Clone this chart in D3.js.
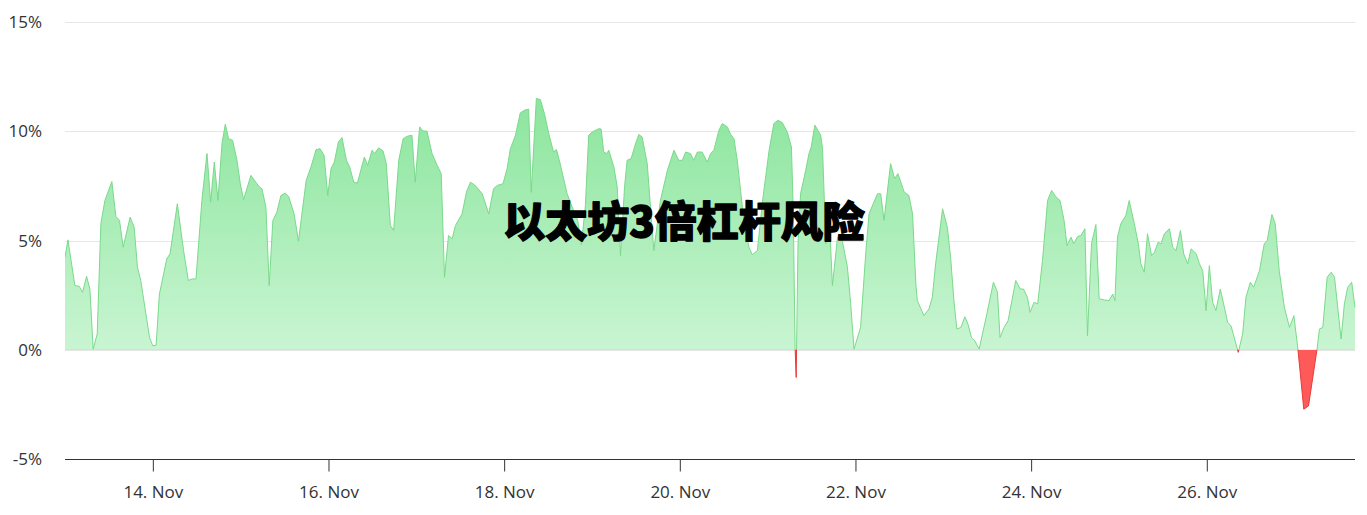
<!DOCTYPE html>
<html lang="zh">
<head>
    <meta charset="UTF-8">
    <title>以太坊3倍杠杆风险</title>
    <script src="https://d3js.org/d3.v7.min.js"></script>
    <style>
        body {
            margin: 0;
            background: #fff;
        }
        svg text {
            font-family: "Open Sans", "Noto Sans", sans-serif;
            fill: #333;
        }
        .grid line {
            stroke: #e6e6e6;
            stroke-width: 1;
        }
        .title {
            font-family: "Noto Sans CJK SC", "Noto Sans CJK JP", sans-serif !important;
            font-weight: 900;
            fill: #000 !important;
            stroke: #000;
            stroke-width: 1.4px;
            stroke-linejoin: round;
        }
    </style>
</head>
<body>
    <svg id="chart" width="1367" height="515"></svg>

    <script>
        // hours since 13 Nov 00:00
        const hours = [
            0, 0.8, 2.7, 3.9, 4.8, 5.9, 6.8, 7.7, 8.8, 9.8, 10.9, 12.8, 13.9, 14.9, 15.9, 17.8, 18.9, 19.8, 20.7, 23.1,
            24.0, 24.9, 25.8, 27.8, 28.7, 30.7, 32.4, 33.7, 34.7, 35.8, 37.4, 38.8, 39.8, 40.8, 41.8, 42.9, 43.8, 44.7, 45.8, 47.0,
            47.9, 48.8, 50.8, 53.1, 53.8, 54.9, 55.8, 56.8, 57.9, 59.0, 60.2, 61.1, 62.6, 63.8, 65.9, 67.2, 68.6, 69.7, 70.8, 71.8,
            72.7, 73.6, 74.7, 75.7, 76.9, 77.8, 78.9, 79.9, 81.8, 82.7, 83.9, 84.6, 85.7, 86.9, 87.8, 88.9, 89.8, 91.2, 92.4, 93.5,
            94.8, 95.7, 96.9, 97.8, 98.9, 100.3, 101.7, 102.8, 103.7, 104.8, 105.8, 106.7, 108.5, 109.7, 110.8, 112.1, 114.0, 115.8, 117.1, 118.1,
            119.7, 120.8, 121.7, 123.1, 124.4, 125.5, 126.7, 127.4, 128.8, 129.9, 131.0, 132.2, 133.5, 134.3, 135.2, 137.2, 138.6, 140.1, 141.1, 142.2,
            143.1, 144.1, 145.9, 146.5, 147.2, 148.0, 148.6, 150.0, 150.9, 151.8, 152.9, 153.6, 154.7, 155.9, 156.8, 157.7, 159.1, 160.0, 160.9, 162.7,
            164.6, 166.4, 167.7, 168.7, 169.6, 170.9, 171.8, 172.8, 174.1, 175.5, 176.4, 177.3, 178.7, 179.6, 181.0, 181.9, 182.8, 183.7, 184.6, 185.5,
            186.9, 187.8, 189.2, 190.6, 192.4, 193.7, 194.8, 196.0, 197.4, 198.5, 199.0, 199.5, 199.8, 200.3, 201.0, 202.4, 203.3, 203.9, 204.9, 206.5,
            207.0, 207.9, 208.8, 209.7, 211.1, 212.4, 213.8, 214.7, 215.6, 217.4, 218.8, 219.7, 222.0, 222.9, 223.8, 225.6, 226.7, 227.6, 228.4, 229.3,
            230.6, 231.6, 232.5, 232.9, 234.7, 236.1, 237.0, 237.9, 239.8, 241.1, 242.0, 242.9, 243.7, 244.8, 245.9, 246.8, 247.7, 248.6, 249.8, 251.9,
            253.7, 254.8, 255.5, 256.6, 257.7, 259.8, 261.0, 261.9, 263.0, 263.7, 264.8, 265.8, 267.1, 268.5, 269.6, 270.8, 271.9, 273.0, 273.8, 274.9,
            275.6, 276.7, 277.6, 278.7, 279.4, 280.5, 281.7, 282.6, 284.0, 285.3, 286.3, 286.9, 287.6, 288.5, 289.9, 290.8, 292.2, 293.3, 294.0, 294.9,
            295.8, 296.9, 297.7, 298.7, 299.5, 300.4, 301.8, 302.7, 303.6, 304.8, 305.7, 306.8, 307.7, 309.1, 310.0, 310.9, 311.8, 312.7, 313.6, 314.5,
            315.7, 316.6, 317.7, 318.6, 319.5, 320.6, 321.8, 322.7, 323.9, 324.8, 326.4, 327.7, 328.5, 329.8, 330.7, 331.8, 333.2, 334.6, 335.8, 336.9,
            338.5, 339.8, 342.1, 342.8, 343.7, 344.9, 346.0, 346.9, 348.7, 349.6, 350.5, 351.6, 352.5
        ];

        // risk value in %
        const values = [
            4.23, 5.03, 2.94, 2.9, 2.63, 3.36, 2.78, 0.03, 0.72, 5.77, 6.83, 7.7, 6.1, 5.92, 4.69, 6.07, 5.61, 3.78, 3.17, 0.56,
            0.18, 0.21, 2.55, 4.16, 4.39, 6.68, 4.54, 3.17, 3.24, 3.24, 6.83, 8.98, 6.76, 8.59, 6.83, 9.44, 10.32, 9.66, 9.59, 8.67,
            7.6, 6.87, 7.98, 7.45, 7.37, 6.53, 2.94, 5.92, 6.3, 7.06, 7.17, 7.02, 6.22, 4.97, 7.75, 8.36, 9.16, 9.2, 8.9, 7.06,
            8.29, 8.59, 9.51, 9.71, 8.67, 8.36, 7.67, 7.63, 8.82, 8.44, 9.13, 8.98, 9.24, 9.1, 8.52, 5.69, 5.46, 8.67, 9.66, 9.77,
            9.82, 7.67, 10.2, 10.01, 10.01, 8.98, 8.44, 8.06, 3.32, 5.23, 5.08, 5.69, 6.22, 7.22, 7.67, 7.52, 7.14, 6.22, 7.37, 7.52,
            7.6, 8.29, 9.2, 9.82, 10.84, 10.96, 11.01, 7.2, 11.5, 11.45, 10.81, 9.89, 9.05, 9.16, 8.59, 7.14, 6.53, 5.92, 4.8, 6.6,
            9.82, 9.97, 10.12, 10.1, 9.05, 8.98, 9.13, 8.36, 7.45, 4.31, 7.45, 8.67, 8.75, 9.43, 9.85, 9.74, 8.52, 6.5, 4.54, 6.83,
            8.21, 9.13, 8.67, 8.67, 9.05, 8.98, 8.67, 9.05, 9.05, 8.59, 8.98, 9.13, 10.05, 10.35, 10.2, 9.85, 9.66, 8.67, 7.29, 5.92,
            4.69, 4.35, 4.54, 6.8, 9.13, 10.35, 10.5, 10.4, 9.95, 9.28, 6.38, 0.1, -1.27, 4.85, 7.14, 8.21, 8.98, 9.28, 10.28, 9.82,
            9.2, 4.85, 6.22, 2.94, 5.15, 5.0, 3.78, 2.1, 0.03, 1.02, 4.39, 6.22, 7.14, 7.14, 5.92, 8.52, 7.83, 8.06, 7.67, 7.22,
            7.06, 6.22, 3.01, 2.25, 1.56, 1.87, 2.4, 3.93, 6.45, 5.61, 4.23, 2.25, 0.95, 1.02, 1.51, 1.15, 0.56, 0.41, 0.03, 1.64,
            3.09, 2.63, 0.56, 1.02, 1.33, 3.17, 2.78, 2.78, 2.4, 1.71, 2.17, 2.1, 4.08, 6.83, 7.29, 6.99, 6.83, 5.92, 4.77, 5.15,
            4.85, 5.18, 5.23, 5.54, 0.64, 4.85, 5.73, 2.33, 2.28, 2.25, 2.55, 2.25, 5.15, 5.77, 6.15, 6.83, 5.77, 4.85, 3.93, 3.55,
            5.31, 4.31, 4.46, 4.92, 4.85, 5.31, 5.54, 4.69, 4.54, 5.46, 4.39, 3.93, 4.62, 4.39, 3.93, 3.62, 1.79, 3.85, 2.17, 1.79,
            2.78, 2.1, 1.25, 1.1, 0.56, -0.12, 0.72, 2.4, 3.09, 2.86, 3.62, 4.85, 5.0, 6.19, 5.77, 3.62, 1.94, 1.02, 1.56, 0.03,
            -2.72, -2.57, 0.0, 0.95, 1.02, 3.32, 3.55, 3.32, 0.49, 2.1, 2.86, 3.09, 1.94
        ];

        const yTicks = [-5, 0, 5, 10, 15];
        const xTickDays = [14, 16, 18, 20, 22, 24, 26];
        const title = "以太坊3倍杠杆风险";

        const start = new Date(2021, 10, 13);
        const data = hours.map((h, i) => ({
            date: new Date(start.getTime() + h * 3600 * 1000),
            value: values[i]
        }));

        const margin = { top: 22, right: 12, bottom: 56, left: 65 };
        const width = 1367, height = 515;

        const svg = d3.select("#chart");

        const x = d3.scaleTime()
            .domain(d3.extent(data, d => d.date))
            .range([margin.left, width - margin.right]);

        const y = d3.scaleLinear()
            .domain([-5, 15])
            .range([height - margin.bottom, margin.top]);

        const defs = svg.append("defs");

        // green gradient above zero
        const grad = defs.append("linearGradient")
            .attr("id", "greenFill")
            .attr("gradientUnits", "userSpaceOnUse")
            .attr("x1", 0).attr("x2", 0)
            .attr("y1", y(d3.max(values))).attr("y2", y(0));
        grad.append("stop").attr("offset", "0%").attr("stop-color", "#8be59d");
        grad.append("stop").attr("offset", "100%").attr("stop-color", "#c9f5d2");

        // clip regions: above and below zero
        defs.append("clipPath").attr("id", "clipPos")
            .append("rect")
            .attr("x", margin.left).attr("y", 0)
            .attr("width", width).attr("height", y(0));
        defs.append("clipPath").attr("id", "clipNeg")
            .append("rect")
            .attr("x", margin.left).attr("y", y(0))
            .attr("width", width).attr("height", height - y(0));

        // gridlines
        svg.append("g")
            .attr("class", "grid")
            .selectAll("line")
            .data(yTicks.filter(t => t > -5))
            .join("line")
            .attr("x1", margin.left)
            .attr("x2", width - margin.right)
            .attr("y1", d => Math.round(y(d)) + 0.5)
            .attr("y2", d => Math.round(y(d)) + 0.5);

        const area = d3.area()
            .x(d => x(d.date))
            .y0(y(0))
            .y1(d => y(d.value));

        const line = d3.line()
            .x(d => x(d.date))
            .y(d => y(d.value));

        // positive part
        svg.append("path")
            .datum(data)
            .attr("clip-path", "url(#clipPos)")
            .attr("fill", "url(#greenFill)")
            .attr("d", area);
        svg.append("path")
            .datum(data)
            .attr("clip-path", "url(#clipPos)")
            .attr("fill", "none")
            .attr("stroke", "#7ad98b")
            .attr("stroke-width", 1)
            .attr("d", line);

        // negative part
        svg.append("path")
            .datum(data)
            .attr("clip-path", "url(#clipNeg)")
            .attr("fill", "#ff5a5a")
            .attr("d", area);
        svg.append("path")
            .datum(data)
            .attr("clip-path", "url(#clipNeg)")
            .attr("fill", "none")
            .attr("stroke", "#e83a3a")
            .attr("stroke-width", 1)
            .attr("d", line);

        // y axis labels
        svg.append("g")
            .selectAll("text")
            .data(yTicks)
            .join("text")
            .attr("x", 42)
            .attr("y", d => y(d) + 6)
            .attr("text-anchor", "end")
            .style("font-size", "17px")
            .text(d => d + "%");

        // x axis
        const xTicks = xTickDays.map(d => new Date(2021, 10, d));
        const xAxis = svg.append("g")
            .attr("transform", `translate(0,${Math.round(y(-5)) + 0.5})`)
            .call(d3.axisBottom(x)
                .tickValues(xTicks)
                .tickFormat(d3.timeFormat("%-d. %b"))
                .tickSize(12)
                .tickSizeOuter(0)
                .tickPadding(14));
        xAxis.select(".domain")
            .attr("d", `M${margin.left},0H${width - margin.right}`)
            .attr("stroke", "#333");
        xAxis.selectAll(".tick line").attr("stroke", "#333");
        xAxis.selectAll(".tick text")
            .attr("fill", "#333")
            .style("font-size", "17px")
            .style("font-family", "'Open Sans', 'Noto Sans', sans-serif");

        // title overlay
        svg.append("text")
            .attr("class", "title")
            .attr("x", 684)
            .attr("y", 237)
            .attr("text-anchor", "middle")
            .style("font-size", "42px")
            .text(title);
    </script>
</body>
</html>
